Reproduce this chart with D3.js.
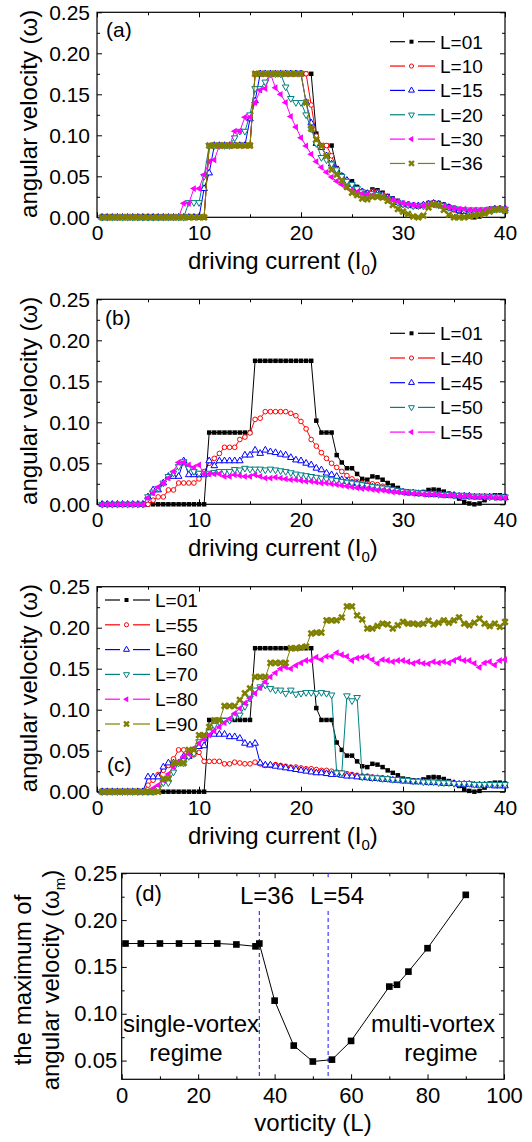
<!DOCTYPE html>
<html>
<head>
<meta charset="utf-8">
<script src="https://cdn.jsdelivr.net/npm/d3@7"></script>
<style>
  body { margin: 0; background: #fff; }
  svg { display: block; }
</style>
</head>
<body>
<svg id="fig" width="532" height="1142"></svg>
<script>
// driving current I0, one sample every 0.5
const current = [
  0.5, 1, 1.5, 2, 2.5, 3, 3.5, 4, 4.5, 5,
  5.5, 6, 6.5, 7, 7.5, 8, 8.5, 9, 9.5, 10,
  10.5, 11, 11.5, 12, 12.5, 13, 13.5, 14, 14.5, 15,
  15.5, 16, 16.5, 17, 17.5, 18, 18.5, 19, 19.5, 20,
  20.5, 21, 21.5, 22, 22.5, 23, 23.5, 24, 24.5, 25,
  25.5, 26, 26.5, 27, 27.5, 28, 28.5, 29, 29.5, 30,
  30.5, 31, 31.5, 32, 32.5, 33, 33.5, 34, 34.5, 35,
  35.5, 36, 36.5, 37, 37.5, 38, 38.5, 39, 39.5, 40
];

// angular velocity per vorticity L
const w01 = [
  0, 0, 0, 0, 0, 0, 0, 0, 0, 0,
  0, 0, 0, 0, 0, 0, 0, 0, 0, 0,
  0, .0875, .0875, .0875, .0875, .0875, .0875, .0875, .0875, .0875,
  .175, .175, .175, .175, .175, .175, .175, .175, .175, .175,
  .175, .175, .102, .0875, .0875, .0875, .06, .051, .044, .044,
  .037, .031, .03, .034, .033, .03, .026, .023, .02, .016,
  .015, .014, .013, .015, .0175, .018, .0175, .0155, .013, .01,
  .007, .003, .001, 0, .001, .005, .01, .011, .011, .01
];
const w10 = [
  0, 0, 0, 0, 0, 0, 0, 0, 0, 0,
  0, 0, 0, 0, 0, 0, 0, 0, 0, 0,
  0, .0875, .0875, .0875, .0875, .0875, .0875, .0875, .0875, .0875,
  .175, .175, .175, .175, .175, .175, .175, .175, .175, .175,
  .175, .137, .099, .0875, .0875, .075, .059, .051, .045, .04,
  .035, .032, .029, .032, .031, .028, .025, .022, .019, .016,
  .015, .014, .014, .015, .017, .018, .016, .014, .011, .009,
  .007, .005, .004, .004, .004, .006, .009, .011, .011, .01
];
const w15 = [
  0, 0, 0, 0, 0, 0, 0, 0, 0, 0,
  0, 0, 0, 0, 0, 0, 0, 0, 0, 0,
  .035, .054, .0875, .0875, .0875, .0875, .0875, .0875, .0875, .12,
  .142, .175, .175, .175, .175, .175, .175, .175, .175, .175,
  .14, .115, .09, .085, .075, .065, .058, .05, .045, .04,
  .035, .031, .029, .03, .029, .027, .024, .021, .018, .016,
  .015, .014, .014, .015, .016, .017, .016, .014, .012, .01,
  .008, .007, .006, .006, .006, .007, .009, .01, .01, .01
];
const w20 = [
  0, 0, 0, 0, 0, 0, 0, 0, 0, 0,
  0, 0, 0, 0, 0, 0, 0, .018, .018, .018,
  .05, .0875, .0875, .0875, .0875, .0875, .097, .105, .105, .125,
  .157, .157, .165, .175, .175, .175, .159, .145, .14, .14,
  .125, .108, .09, .073, .07, .065, .058, .05, .044, .04,
  .035, .031, .028, .029, .028, .026, .023, .02, .018, .016,
  .015, .014, .014, .014, .015, .016, .015, .014, .012, .011,
  .01, .009, .009, .009, .009, .009, .01, .01, .01, .01
];
const w30 = [
  0, 0, 0, 0, 0, 0, 0, 0, 0, 0,
  0, 0, 0, 0, 0, 0, .017, .017, .035, .035,
  .052, .068, .07, .0875, .0875, .0875, .105, .105, .122, .122,
  .14, .155, .157, .175, .158, .15, .14, .123, .11, .097,
  .087, .077, .068, .061, .055, .049, .044, .04, .036, .033,
  .031, .029, .028, .027, .026, .025, .023, .021, .019, .017,
  .016, .015, .014, .014, .015, .015, .014, .013, .012, .011,
  .01, .01, .009, .009, .009, .009, .01, .01, .01, .01
];
const w36 = [
  0, 0, 0, 0, 0, 0, 0, 0, 0, 0,
  0, 0, 0, 0, 0, 0, 0, 0, 0, 0,
  0, .0875, .0875, .0875, .0875, .0875, .0875, .0875, .0875, .0875,
  .175, .175, .175, .175, .175, .175, .175, .175, .175, .175,
  .14, .108, .095, .087, .075, .058, .052, .045, .037, .03,
  .027, .023, .022, .025, .025, .024, .02, .015, .01, .007,
  .004, .001, 0, .002, .012, .016, .015, .009, .003, 0,
  0, 0, .001, .002, .003, .005, .007, .009, .01, .008
];
const w40 = [
  0, 0, 0, 0, 0, 0, 0, 0, 0, 0,
  .005, .009, .009, .0175, .0175, .026, .026, .026, .026, .031,
  .04, .05, .056, .062, .0695, .0695, .0695, .079, .082, .087,
  .1036, .105, .113, .113, .113, .113, .113, .111, .108, .101,
  .092, .079, .071, .063, .056, .05, .045, .04, .035, .031,
  .028, .026, .025, .025, .024, .022, .02, .018, .016, .015,
  .014, .014, .013, .013, .013, .013, .012, .012, .011, .011,
  .01, .01, .009, .009, .009, .009, .009, .009, .009, .008
];
const w45 = [
  0, 0, 0, 0, 0, 0, 0, 0, 0, .009,
  .0175, .0175, .026, .034, .034, .034, .053, .036, .036, .036,
  .036, .053, .047, .053, .053, .053, .053, .053, .06, .06,
  .066, .062, .066, .064, .063, .061, .06, .057, .054, .053,
  .05, .048, .044, .042, .038, .036, .034, .03, .028, .026,
  .025, .023, .022, .021, .02, .019, .018, .017, .016, .015,
  .014, .014, .013, .013, .012, .012, .012, .011, .011, .011,
  .01, .01, .01, .009, .009, .009, .009, .009, .008, .008
];
const w50 = [
  0, 0, 0, 0, 0, 0, 0, 0, 0, .0093,
  .015, .0195, .026, .034, .038, .046, .052, .044, .04, .038,
  .038, .038, .039, .04, .04, .04, .0425, .042, .044, .043,
  .043, .043, .042, .043, .042, .041, .04, .0386, .037, .036,
  .035, .034, .033, .032, .031, .03, .029, .028, .027, .026,
  .025, .024, .023, .022, .021, .02, .019, .018, .017, .016,
  .015, .015, .014, .014, .013, .013, .012, .012, .012, .011,
  .011, .011, .01, .01, .01, .01, .009, .009, .009, .009
];
const w55 = [
  0, 0, 0, 0, 0, 0, 0, 0, 0, .008,
  .014, .021, .026, .032, .04, .051, .051, .048, .045, .048,
  .037, .037, .037, .037, .034, .034, .036, .035, .034, .034,
  .036, .034, .032, .032, .033, .032, .031, .03, .03, .029,
  .028, .028, .027, .026, .026, .025, .024, .023, .022, .021,
  .02, .019, .019, .018, .017, .017, .016, .015, .015, .014,
  .014, .013, .013, .012, .012, .012, .012, .011, .011, .011,
  .01, .01, .01, .009, .009, .009, .009, .008, .008, .008
];
const w60 = [
  0, 0, 0, 0, 0, 0, 0, 0, 0, .018,
  .018, .018, .03, .035, .035, .035, .043, .043, .049, .055,
  .056, .071, .07, .07, .07, .067, .067, .065, .059, .057,
  .059, .035, .0325, .0325, .031, .03, .029, .028, .027, .026,
  .025, .024, .023, .023, .022, .021, .021, .02, .019, .019,
  .018, .0175, .017, .016, .016, .015, .015, .014, .014, .013,
  .013, .012, .012, .012, .011, .011, .011, .01, .01, .01,
  .009, .009, .009, .008, .008, .008, .008, .007, .007, .007
];
const w70 = [
  0, 0, 0, 0, 0, 0, 0, 0, 0, 0,
  0, .004, .011, .011, .024, .035, .035, .043, .047, .061,
  .067, .073, .081, .085, .087, .087, .0915, .0935, .104, .114,
  .124, .128, .13, .126, .124, .124, .12, .124, .119, .12,
  .121, .121, .12, .121, .12, .118, .023, .023, .117, .111,
  .115, .018, .018, .017, .017, .016, .016, .015, .015, .014,
  .014, .013, .013, .012, .012, .012, .011, .011, .011, .01,
  .01, .01, .01, .009, .009, .009, .009, .009, .009, .009
];
const w80 = [
  0, 0, 0, 0, 0, 0, 0, 0, 0, 0,
  .004, .008, .014, .0215, .03, .0366, .0427, .046, .053, .059,
  .064, .069, .074, .079, .084, .089, .0955, .1016, .108, .114,
  .12, .127, .134, .14, .145, .15, .152, .15, .154, .157,
  .16, .16, .164, .161, .165, .165, .1695, .167, .165, .16,
  .163, .164, .165, .161, .1565, .161, .16, .1585, .16, .16,
  .1585, .1565, .1585, .1565, .156, .1585, .157, .1585, .157, .16,
  .1626, .16, .16, .1565, .1516, .157, .1585, .1545, .16, .161
];
const w90 = [
  0, 0, 0, 0, 0, 0, 0, 0, 0, 0,
  0, 0, .016, .016, .035, .035, .035, .051, .051, .069,
  .069, .079, .087, .087, .1045, .1045, .1045, .112, .12, .126,
  .14, .14, .14, .157, .157, .157, .157, .175, .175, .176,
  .177, .193, .194, .194, .209, .209, .209, .2126, .226, .226,
  .215, .21, .199, .199, .202, .205, .204, .199, .203, .207,
  .205, .205, .204, .205, .2085, .204, .206, .209, .206, .209,
  .2126, .205, .203, .206, .211, .205, .202, .205, .201, .207
];

// panel (d): maximum angular velocity vs vorticity
const vorticity = [1, 5, 10, 15, 20, 25, 30, 35, 36, 40, 45, 50, 55, 60, 70, 72, 75, 80, 90];
const omegaMax = [0.175, 0.175, 0.175, 0.175, 0.175, 0.175, 0.174, 0.172, 0.175, 0.114, 0.066, 0.049, 0.051, 0.071, 0.129, 0.131, 0.145, 0.17, 0.227];
const regimeBounds = [36, 54];

const xTicks = [0, 10, 20, 30, 40];
const xMinorTicks = [5, 15, 25, 35];
const yTicks = [0, 0.05, 0.10, 0.15, 0.20, 0.25];
const yMinorTicks = [0.025, 0.075, 0.125, 0.175, 0.225];
const dxTicks = [0, 20, 40, 60, 80, 100];
const dxMinorTicks = [10, 30, 50, 70, 90];
const dyTicks = [0.05, 0.10, 0.15, 0.20, 0.25];
const dyMinorTicks = [0.075, 0.125, 0.175, 0.225];

const FONT = "'Liberation Sans', Arial, Helvetica, sans-serif";
const svg = d3.select("#fig");

const markers = {
  square: { type: d3.symbolSquare, size: 20, filled: true, rot: 0 },
  circle: { type: d3.symbolCircle, size: 17, filled: false, rot: 0 },
  up:     { type: d3.symbolTriangle, size: 19, filled: false, rot: 0 },
  down:   { type: d3.symbolTriangle, size: 19, filled: false, rot: 180 },
  left:   { type: d3.symbolTriangle, size: 20, filled: true, rot: -90 },
  cross:  { type: d3.symbolCross, size: 34, filled: true, rot: 45 }
};

const colors = { black: "#000000", red: "#ff0000", blue: "#0000ff", teal: "#008080", magenta: "#ff00ff", olive: "#808000" };

function putMarker(sel, m, color, scale) {
  const mk = markers[m];
  sel.attr("d", d3.symbol(mk.type, mk.size * scale)())
    .attr("fill", mk.filled ? color : "#fff")
    .attr("stroke", color)
    .attr("stroke-width", mk.filled ? 0 : 1);
}

function addAxis(g, axis, tr, fs) {
  const a = g.append("g").attr("transform", tr).call(axis);
  a.select(".domain").remove();
  a.attr("font-family", FONT).attr("font-size", fs);
  return a;
}

// frame with inward ticks on all four sides (Origin style)
function frame(g, xs, ys, o) {
  const [x0, x1] = xs.range();
  const [yb, yt] = ys.range();
  g.append("rect")
    .attr("x", x0).attr("y", yt).attr("width", x1 - x0).attr("height", yb - yt)
    .attr("fill", "none").attr("stroke", "#000").attr("stroke-width", 1.2);
  addAxis(g, d3.axisBottom(xs).tickValues(o.xMajor).tickSizeInner(-5).tickSizeOuter(0).tickPadding(8).tickFormat(d3.format("d")), `translate(0,${yb})`, o.fs);
  addAxis(g, d3.axisBottom(xs).tickValues(o.xMinor).tickSizeInner(-3).tickSizeOuter(0).tickFormat(""), `translate(0,${yb})`, o.fs);
  addAxis(g, d3.axisTop(xs).tickValues(o.xMajor).tickSizeInner(-5).tickSizeOuter(0).tickFormat(""), `translate(0,${yt})`, o.fs);
  addAxis(g, d3.axisTop(xs).tickValues(o.xMinor).tickSizeInner(-3).tickSizeOuter(0).tickFormat(""), `translate(0,${yt})`, o.fs);
  addAxis(g, d3.axisLeft(ys).tickValues(o.yMajor).tickSizeInner(-5).tickSizeOuter(0).tickPadding(o.yPad).tickFormat(d3.format(".2f")), `translate(${x0},0)`, o.fs);
  addAxis(g, d3.axisLeft(ys).tickValues(o.yMinor).tickSizeInner(-3).tickSizeOuter(0).tickFormat(""), `translate(${x0},0)`, o.fs);
  addAxis(g, d3.axisRight(ys).tickValues(o.yMajor).tickSizeInner(-5).tickSizeOuter(0).tickFormat(""), `translate(${x1},0)`, o.fs);
  addAxis(g, d3.axisRight(ys).tickValues(o.yMinor).tickSizeInner(-3).tickSizeOuter(0).tickFormat(""), `translate(${x1},0)`, o.fs);
}

const panels = [
  { tag: "(a)", top: 12.3, bottom: 217.3, tagX: 106, tagY: 37,
    legX: 390, legY: 41.7, legStep: 24.35,
    series: [["L=01", w01, "black", "square"], ["L=10", w10, "red", "circle"], ["L=15", w15, "blue", "up"],
             ["L=20", w20, "teal", "down"], ["L=30", w30, "magenta", "left"], ["L=36", w36, "olive", "cross"]] },
  { tag: "(b)", top: 299.3, bottom: 504.3, tagX: 105, tagY: 325,
    legX: 390, legY: 333.3, legStep: 24.7,
    series: [["L=01", w01, "black", "square"], ["L=40", w40, "red", "circle"], ["L=45", w45, "blue", "up"],
             ["L=50", w50, "teal", "down"], ["L=55", w55, "magenta", "left"]] },
  { tag: "(c)", top: 586.7, bottom: 791.7, tagX: 107, tagY: 772,
    legX: 105, legY: 600, legStep: 24.8,
    series: [["L=01", w01, "black", "square"], ["L=55", w55, "red", "circle"], ["L=60", w60, "blue", "up"],
             ["L=70", w70, "teal", "down"], ["L=80", w80, "magenta", "left"], ["L=90", w90, "olive", "cross"]] }
];

const x = d3.scaleLinear().domain([0, 40]).range([97, 505]);

panels.forEach(p => {
  const g = svg.append("g");
  const y = d3.scaleLinear().domain([0, 0.25]).range([p.bottom, p.top]);
  frame(g, x, y, { xMajor: xTicks, xMinor: xMinorTicks, yMajor: yTicks, yMinor: yMinorTicks, fs: 21, yPad: 7 });

  const line = d3.line().x(d => x(d[0])).y(d => y(d[1]));
  p.series.forEach(([name, vals, col, mk]) => {
    const pts = current.map((c, i) => [c, vals[i]]);
    const s = g.append("g");
    s.append("path").datum(pts).attr("d", line)
      .attr("fill", "none").attr("stroke", colors[col]).attr("stroke-width", 1);
    s.selectAll("path.pt").data(pts).join("path").attr("class", "pt")
      .call(putMarker, mk, colors[col], 1)
      .attr("transform", d => `translate(${x(d[0])},${y(d[1])}) rotate(${markers[mk].rot})`);
  });

  // legend
  p.series.forEach(([name, vals, col, mk], i) => {
    const ly = p.legY + i * p.legStep;
    const lg = g.append("g");
    lg.append("line").attr("x1", p.legX).attr("x2", p.legX + 15).attr("y1", ly).attr("y2", ly)
      .attr("stroke", colors[col]).attr("stroke-width", 1.2);
    lg.append("line").attr("x1", p.legX + 28).attr("x2", p.legX + 45).attr("y1", ly).attr("y2", ly)
      .attr("stroke", colors[col]).attr("stroke-width", 1.2);
    lg.append("path").call(putMarker, mk, colors[col], 0.8)
      .attr("transform", `translate(${p.legX + 21.5},${ly}) rotate(${markers[mk].rot})`);
    lg.append("text").attr("x", p.legX + 50).attr("y", ly + 6.8)
      .attr("font-family", FONT).attr("font-size", 19).text(name);
  });

  g.append("text").attr("x", p.tagX).attr("y", p.tagY)
    .attr("font-family", FONT).attr("font-size", 21).text(p.tag);

  const xt = g.append("text").attr("x", 188).attr("y", p.bottom + 52)
    .attr("font-family", FONT).attr("font-size", 24);
  xt.append("tspan").text("driving current (I");
  xt.append("tspan").attr("font-size", 15).attr("dy", 6).text("0");
  xt.append("tspan").attr("dy", -6).text(")");

  g.append("text")
    .attr("transform", `translate(37,${(p.top + p.bottom) / 2 - 1}) rotate(-90)`)
    .attr("text-anchor", "middle")
    .attr("font-family", FONT).attr("font-size", 24)
    .text("angular velocity (\u03c9)");
});

// panel (d)
{
  const g = svg.append("g");
  const xd = d3.scaleLinear().domain([0, 100]).range([121.7, 504]);
  const yd = d3.scaleLinear().domain([0.03, 0.25]).range([1079.3, 873.3]);
  frame(g, xd, yd, { xMajor: dxTicks, xMinor: dxMinorTicks, yMajor: dyTicks, yMinor: dyMinorTicks, fs: 22, yPad: 4.5 });

  // regime boundaries, broken where the labels sit
  regimeBounds.forEach(b => {
    [[873.3, 879], [911, 1079.3]].forEach(([a, z]) => {
      g.append("line").attr("x1", xd(b)).attr("x2", xd(b)).attr("y1", a).attr("y2", z)
        .attr("stroke", "#2a2aff").attr("stroke-width", 1.1).attr("stroke-dasharray", "4,3");
    });
  });

  const pts = vorticity.map((v, i) => [v, omegaMax[i]]);
  g.append("path").datum(pts)
    .attr("d", d3.line().x(d => xd(d[0])).y(d => yd(d[1])))
    .attr("fill", "none").attr("stroke", "#000").attr("stroke-width", 1);
  g.selectAll("path.pt").data(pts).join("path").attr("class", "pt")
    .attr("d", d3.symbol(d3.symbolSquare, 44)())
    .attr("fill", "#000")
    .attr("transform", d => `translate(${xd(d[0])},${yd(d[1])})`);

  const txt = (s, xx, yy, anchor, fs) => g.append("text").attr("x", xx).attr("y", yy)
    .attr("text-anchor", anchor).attr("font-family", FONT).attr("font-size", fs).text(s);
  txt("(d)", 135, 901, "start", 22);
  txt("L=36", 240, 904, "start", 24);
  txt("L=54", 310, 904, "start", 24);
  txt("single-vortex", 191, 1032, "middle", 24);
  txt("regime", 186, 1061, "middle", 24);
  txt("multi-vortex", 433, 1032, "middle", 24);
  txt("regime", 441, 1061, "middle", 24);
  txt("vorticity (L)", 313, 1131, "middle", 24);

  const cy = 980;
  g.append("text").attr("transform", `translate(31,${cy}) rotate(-90)`)
    .attr("text-anchor", "middle").attr("font-family", FONT).attr("font-size", 24)
    .text("the maximum of");
  const t2 = g.append("text").attr("transform", `translate(59,${cy}) rotate(-90)`)
    .attr("text-anchor", "middle").attr("font-family", FONT).attr("font-size", 24);
  t2.append("tspan").text("angular velocity (\u03c9");
  t2.append("tspan").attr("font-size", 15).attr("dy", 6).text("m");
  t2.append("tspan").attr("dy", -6).text(")");
}
</script>
</body>
</html>
